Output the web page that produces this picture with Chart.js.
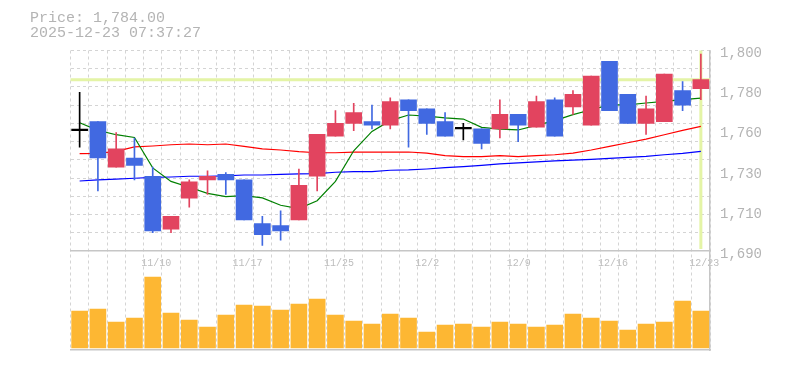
<!DOCTYPE html>
<html>
<head>
<meta charset="utf-8">
<script src="https://cdn.jsdelivr.net/npm/chart.js@4.4.1/dist/chart.umd.min.js"></script>
<style>
html, body { margin: 0; padding: 0; background: #fff; }
#wrap { position: relative; width: 785px; height: 370px; }
.info { position: absolute; left: 30px; font: 15px "Liberation Mono", monospace; color: #b4b4b4; line-height: 15px; white-space: pre; }
</style>
</head>
<body>
<div id="wrap">
  <canvas id="chart" width="785" height="370"></canvas>
  <div class="info" style="top:11px">Price: 1,784.00</div>
  <div class="info" style="top:26px">2025-12-23 07:37:27</div>
</div>
<script>
// Daily candles, 11/4 - 12/23
const dates = ['11/4','11/5','11/6','11/7','11/10','11/11','11/12','11/13','11/14',
  '11/17','11/18','11/19','11/20','11/21','11/25','11/26','11/27','11/28',
  '12/1','12/2','12/3','12/4','12/5','12/8','12/9','12/10','12/11','12/12',
  '12/15','12/16','12/17','12/18','12/19','12/22','12/23'];

const opens  = [1756,1761,1736,1741,1731,1702,1719,1729,1732,1729,1705,1704,1707,1731,1753,1760,1761,1759,
  1773,1768,1761,1757,1757,1757,1765,1758,1773,1769,1759,1794,1776,1760,1761,1778,1779];
const highs  = [1777,1761,1755,1752,1736,1709,1729,1734,1733,1729,1709,1712,1735,1754,1767,1771,1770,1774,
  1773,1768,1766,1760,1757,1773,1765,1775,1774,1778,1786,1794,1776,1775,1787,1783,1798];
const lows   = [1747,1723,1736,1729,1700,1700,1714,1721,1721,1707,1693,1696,1707,1723,1753,1756,1757,1757,
  1747,1754,1753,1751,1746,1752,1750,1758,1753,1765,1759,1767,1760,1754,1761,1767,1773];
const closes = [1756,1741,1746,1737,1701,1709,1728,1731,1729,1707,1699,1701,1726,1754,1760,1766,1759,1772,
  1767,1760,1753,1757,1749,1765,1759,1772,1753,1776,1786,1767,1760,1768,1787,1770,1784];

// moving averages (short / 25 / 75)
const maShort = [1760.4,1756.2,1753.8,1752.3,1735.6,1728.2,1725.0,1721.6,1719.8,1720.4,1719.1,1715.1,1713.3,1717.6,
  1728.2,1745.0,1755.6,1761.5,1764.6,1764.0,1763.0,1762.4,1757.8,1756.9,1756.4,1758.9,1761.5,1764.8,1767.5,
  1770.2,1770.2,1771.2,1772.1,1773.0,1773.9];
const ma25 = [1743.4,1743.6,1744.7,1747.1,1747.6,1748.3,1748.7,1748.3,1748.7,1747.4,1746.0,1745.4,1744.5,1743.9,
  1743.9,1744.3,1744.3,1744.3,1744.3,1743.7,1742.3,1741.8,1741.8,1742.3,1741.8,1742.3,1742.8,1743.7,1745.4,
  1747.4,1749.4,1751.4,1753.8,1756.2,1758.4];
const ma75 = [1728.4,1729.0,1729.4,1729.9,1730.4,1730.6,1731.0,1731.0,1731.2,1731.7,1731.7,1732.0,1732.3,1732.5,
  1733.2,1733.6,1733.6,1734.3,1734.5,1735.0,1735.7,1736.3,1737.0,1737.8,1738.3,1738.9,1739.4,1739.9,1740.3,
  1740.8,1741.4,1741.9,1742.8,1743.6,1744.7];

// volume (thousand shares)
const volumes = [37,39,26,30,71,35,28,21,33,43,42,38,44,49,33,27,24,34,30,16,23,24,21,26,24,21,23,34,30,27,18,24,26,47,37]
  .map(v => v * 1000);

const currentPrice = 1784;
const gridValues = [1690,1700,1710,1720,1730,1740,1750,1760,1770,1780,1790,1800];
const priceTickValues = [1690,1712,1734,1756,1778,1800];
const priceTickLabels = ['1,690','1,710','1,730','1,760','1,780','1,800'];
const dateTickLabels = ['11/10','11/17','11/25','12/2','12/9','12/16','12/23'];

const upColor = '#e2445f';
const downColor = '#4169e1';
const gridColor = '#d4d4d4';
const frameColor = '#c6c6c6';

const candleColors = opens.map((o, i) => closes[i] > o ? upColor : closes[i] < o ? downColor : '#000');
const bodies = opens.map((o, i) => [o, closes[i]]);
const wicks = lows.map((l, i) => [l, highs[i]]);

// price pane 200.5px over 1690..1800, volume pane 99px below it
const priceMin = 1690 - 110 * 99 / 200.5;
const volMin = -2000, volMax = -2000 + 299.5 * 1000;

const priceLines = {
  id: 'priceLines',
  beforeDatasetsDraw(chart) {
    const {ctx, chartArea, scales} = chart;
    const y = scales.y.getPixelForValue(currentPrice);
    const x = scales.x.getPixelForValue(dates.length - 1);
    ctx.save();
    ctx.strokeStyle = '#e4f4a6';
    ctx.lineWidth = 3;
    ctx.beginPath();
    ctx.moveTo(chartArea.left, y);
    ctx.lineTo(chartArea.right, y);
    ctx.moveTo(x, chartArea.top);
    ctx.lineTo(x, scales.y.getPixelForValue(1690) - 2);
    ctx.stroke();
    ctx.restore();
  }
};

new Chart(document.getElementById('chart'), {
  type: 'bar',
  data: {
    labels: dates,
    datasets: [
      { label: 'body', data: bodies, backgroundColor: candleColors, barThickness: 16, grouped: false, minBarLength: 1.5, order: 0, yAxisID: 'y' },
      { label: 'wick', data: wicks, backgroundColor: candleColors, barThickness: 1, grouped: false, order: 1, yAxisID: 'y' },
      { type: 'line', label: 'MA short', data: maShort, borderColor: '#008000', borderWidth: 1.2, pointRadius: 0, order: 2, yAxisID: 'y' },
      { type: 'line', label: 'MA25', data: ma25, borderColor: '#ff0000', borderWidth: 1.2, pointRadius: 0, order: 3, yAxisID: 'y' },
      { type: 'line', label: 'MA75', data: ma75, borderColor: '#0000ff', borderWidth: 1.2, pointRadius: 0, order: 4, yAxisID: 'y' },
      { label: 'volume', data: volumes, backgroundColor: '#fdb733', barThickness: 16, grouped: false, order: 5, yAxisID: 'yv' }
    ]
  },
  options: {
    responsive: false,
    animation: false,
    events: [],
    layout: { padding: { left: 70.5, top: 50.5, right: 0, bottom: 20 } },
    plugins: { legend: { display: false }, tooltip: { enabled: false } },
    scales: {
      x: {
        position: 'bottom',
        offset: true,
        ticks: { display: false, autoSkip: false },
        grid: { color: gridColor, drawTicks: false, offset: true },
        border: { display: true, color: frameColor, width: 1.5, dash: [3, 3] },
        afterFit: s => { s.height = 0; }
      },
      xd: {
        axis: 'x',
        type: 'category',
        position: { y: 1690 },
        offset: true,
        grid: { display: false, drawTicks: false },
        border: { display: true, color: frameColor, width: 1.5 },
        ticks: {
          autoSkip: false, maxRotation: 0, minRotation: 0,
          align: 'start', labelOffset: -11.5, padding: 6,
          color: '#bdbdbd', font: { family: 'Liberation Mono', size: 10 },
          callback: v => dateTickLabels.includes(dates[v]) ? dates[v] : ''
        }
      },
      y: {
        position: 'left',
        min: priceMin, max: 1800,
        afterBuildTicks: s => { s.ticks = gridValues.map(v => ({ value: v })); },
        ticks: { display: false },
        grid: { color: gridColor, drawTicks: false },
        border: { display: false, dash: [3, 3] },
        afterFit: s => { s.width = 0; }
      },
      yl: {
        position: 'right',
        min: priceMin, max: 1800,
        afterBuildTicks: s => { s.ticks = priceTickValues.map(v => ({ value: v })); },
        grid: { display: false, drawTicks: false },
        border: { display: true, color: frameColor, width: 1.5 },
        ticks: {
          padding: 10, labelOffset: 3,
          color: '#b4b4b4', font: { family: 'Liberation Mono', size: 14 },
          callback: (v, i) => priceTickLabels[i]
        },
        afterFit: s => { s.width = 75; }
      },
      yv: { display: false, min: volMin, max: volMax }
    }
  },
  plugins: [priceLines]
});
</script>
</body>
</html>
